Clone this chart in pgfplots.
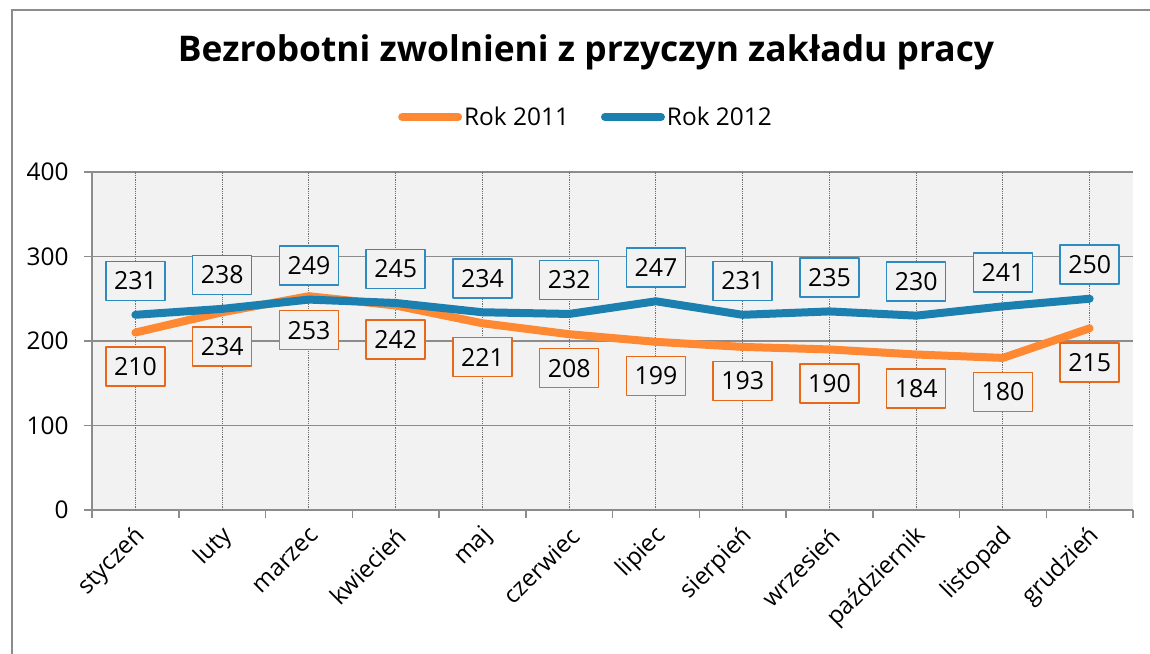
\documentclass[border=0pt]{standalone}
\usepackage{pgfplots}
\pgfplotsset{compat=1.18}
\usepackage{fontspec}
\setmainfont{Open Sans}
\definecolor{lorange}{HTML}{FF8832}
\definecolor{lblue}{HTML}{1B80B0}
\definecolor{borange}{HTML}{E8681A}
\definecolor{bblue}{HTML}{2E8BC0}
\definecolor{bggray}{HTML}{F2F2F2}
\definecolor{gridgray}{HTML}{8C8C8C}
\begin{document}
\begin{tikzpicture}[x=1bp,y=1bp]
\path[use as bounding box] (0,0) rectangle (1150,654);
\draw[gridgray, line width=2bp] (12,0) -- (12,644) -- (1150,644);
\node[font=\bfseries\fontsize{35.5}{42}\selectfont] at (586,602) {Bezrobotni zwolnieni z przyczyn zakładu pracy};
\begin{axis}[
  at={(92bp,144bp)}, anchor=south west, scale only axis,
  width=1041bp, height=338bp,
  xmin=-0.5, xmax=11.5, ymin=0, ymax=400,
  axis lines*=left,
  axis line style={gridgray, line width=1.5bp},
  axis background/.style={fill=bggray},
  ytick={0,100,200,300,400},
  ymajorgrids,
  major grid style={gridgray, line width=1.5bp},
  xtick={-0.5,0.5,...,11.5},
  xticklabels={},
  tick align=outside,
  major tick length=8bp,
  tick style={gridgray, line width=1.5bp},
  extra x ticks={0,1,2,3,4,5,6,7,8,9,10,11},
  extra x tick labels={styczeń,luty,marzec,kwiecień,maj,czerwiec,lipiec,sierpień,wrzesień,październik,listopad,grudzień},
  extra x tick style={major tick length=0pt, grid=none},
  x tick label style={rotate=45, anchor=east, xshift=-8bp, yshift=-20bp, font=\fontsize{24}{28}\selectfont},
  y tick label style={xshift=-12bp, font=\fontsize{24.5}{28}\selectfont},
  /pgf/number format/assume math mode=true,
  legend columns=2,
  legend style={at={(0.4745,1.163)}, anchor=center, draw=none, fill=none,
    font=\fontsize{24.5}{28}\selectfont, inner sep=0pt,
    /tikz/every even column/.append style={column sep=30bp}},
  legend image code/.code={\draw[#1, line cap=round] (0bp,0bp) -- (56bp,0bp);},
  clip=false,
]
\pgfplotsinvokeforeach{0,...,11}{
  \draw[gridgray!80!black, densely dotted, line width=0.8bp] (axis cs:#1,0) -- (axis cs:#1,400);
}
\addplot[lorange, line width=8bp, line cap=round, line join=round,
  nodes near coords,
  every node near coord/.append style={anchor=center, yshift=-34bp, draw=borange, line width=1.5bp,
    minimum width=59bp, minimum height=39bp, inner sep=0pt, text=black, fill=bggray,
    font=\fontsize{25}{29}\selectfont},
  nodes near coords align={center}]
  coordinates {(0,210) (1,234) (2,253) (3,242) (4,221) (5,208) (6,199) (7,193) (8,190) (9,184) (10,180) (11,215)};
\addlegendentry{Rok 2011}
\addplot[lblue, line width=8bp, line cap=round, line join=round,
  nodes near coords,
  every node near coord/.append style={anchor=center, yshift=34bp, draw=bblue, line width=1.5bp,
    minimum width=59bp, minimum height=39bp, inner sep=0pt, text=black, fill=bggray,
    font=\fontsize{25}{29}\selectfont},
  nodes near coords align={center}]
  coordinates {(0,231) (1,238) (2,249) (3,245) (4,234) (5,232) (6,247) (7,231) (8,235) (9,230) (10,241) (11,250)};
\addlegendentry{Rok 2012}
\end{axis}
\end{tikzpicture}
\end{document}
